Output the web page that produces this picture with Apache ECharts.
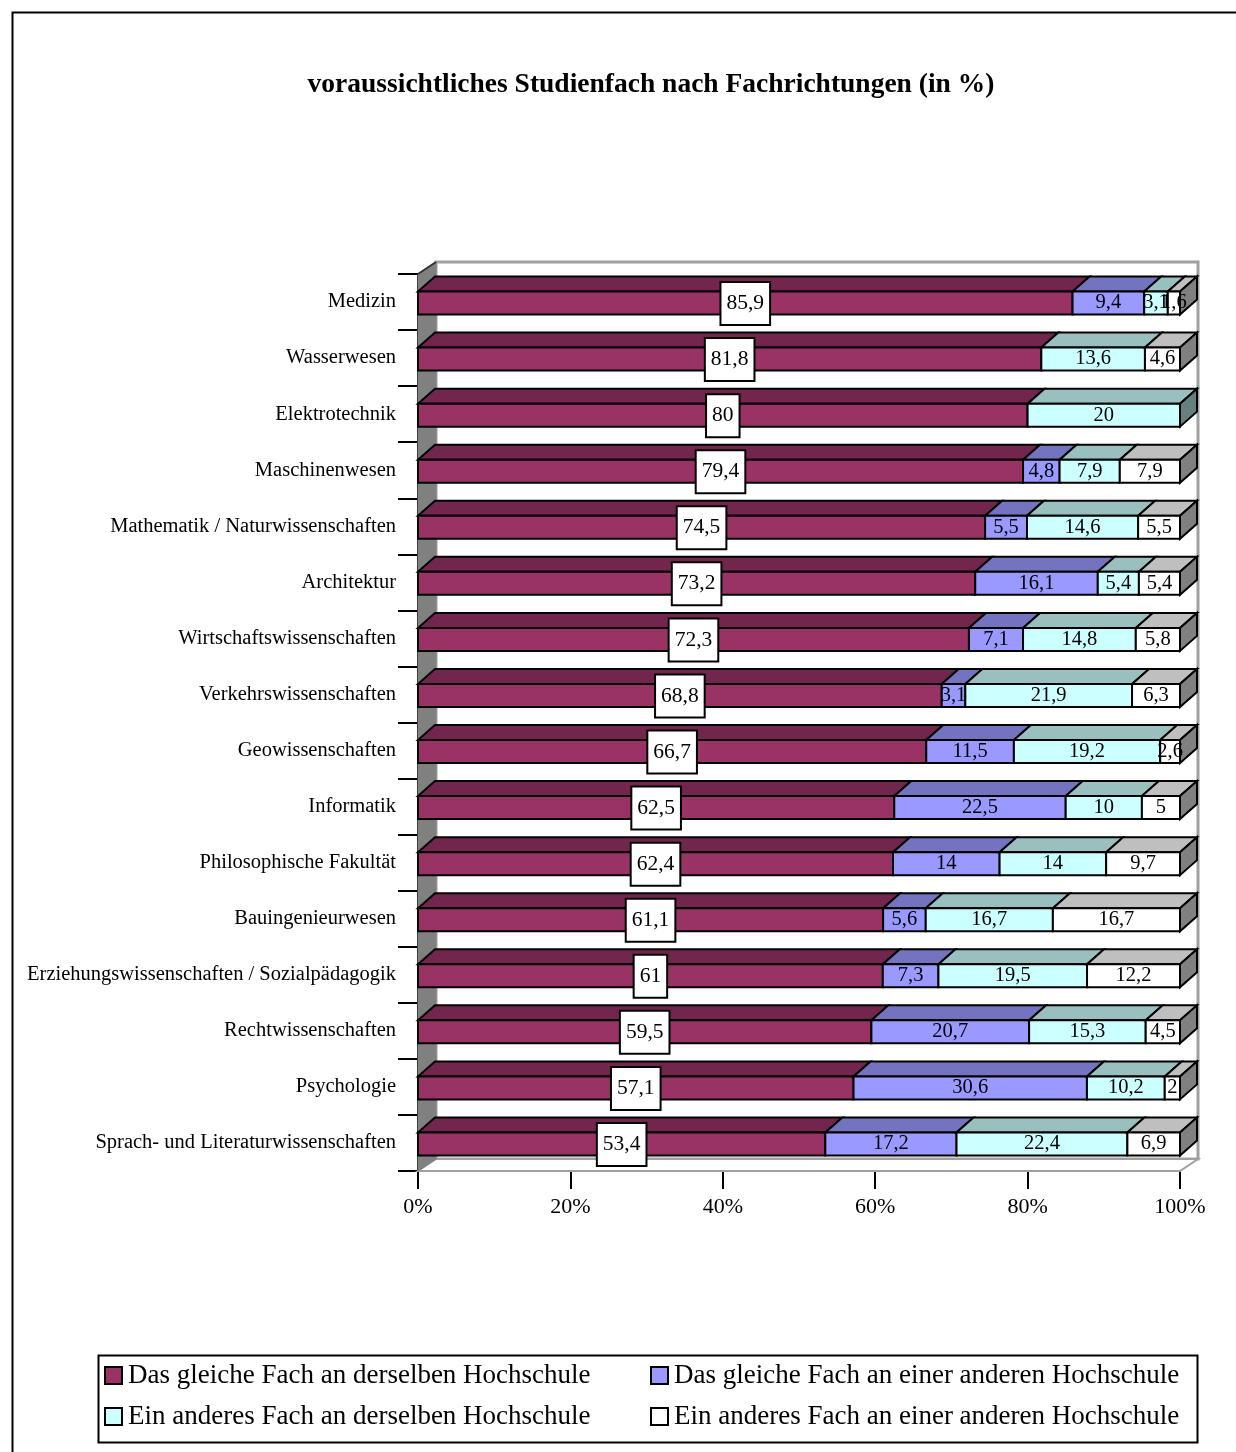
<!DOCTYPE html>
<html>
<head>
<meta charset="utf-8">
<script src="https://cdn.jsdelivr.net/npm/echarts@6/dist/echarts.min.js"></script>
<style>
  html, body { margin: 0; padding: 0; background: #fff; }
  #main { width: 1236px; height: 1452px; }
</style>
</head>
<body>
<div id="main"></div>
<script>
// Fachrichtungen (von oben nach unten)
var faecher = [
  "Medizin", "Wasserwesen", "Elektrotechnik", "Maschinenwesen",
  "Mathematik / Naturwissenschaften", "Architektur", "Wirtschaftswissenschaften",
  "Verkehrswissenschaften", "Geowissenschaften", "Informatik",
  "Philosophische Fakultät", "Bauingenieurwesen",
  "Erziehungswissenschaften / Sozialpädagogik", "Rechtwissenschaften",
  "Psychologie", "Sprach- und Literaturwissenschaften"
];
var serienNamen = [
  "Das gleiche Fach an derselben Hochschule",
  "Das gleiche Fach an einer anderen Hochschule",
  "Ein anderes Fach an derselben Hochschule",
  "Ein anderes Fach an einer anderen Hochschule"
];
var gleichDerselben  = [85.9, 81.8, 80, 79.4, 74.5, 73.2, 72.3, 68.8, 66.7, 62.5, 62.4, 61.1, 61, 59.5, 57.1, 53.4];
var gleichAnderen    = [9.4, 0, 0, 4.8, 5.5, 16.1, 7.1, 3.1, 11.5, 22.5, 14, 5.6, 7.3, 20.7, 30.6, 17.2];
var anderesDerselben = [3.1, 13.6, 20, 7.9, 14.6, 5.4, 14.8, 21.9, 19.2, 10, 14, 16.7, 19.5, 15.3, 10.2, 22.4];
var anderesAnderen   = [1.6, 4.6, 0, 7.9, 5.5, 5.4, 5.8, 6.3, 2.6, 5, 9.7, 16.7, 12.2, 4.5, 2, 6.9];
var achsenTicks = [0, 20, 40, 60, 80, 100];

var werte = [gleichDerselben, gleichAnderen, anderesDerselben, anderesAnderen];

// Farben (Front, Oberseite, Seite)
var frontCol = ["#993366", "#9999FF", "#CCFFFF", "#FFFFFF"];
var topCol   = ["#73264D", "#7373BF", "#99BFBF", "#BFBFBF"];
var sideCol  = ["#4D1A33", "#4D4D80", "#668080", "#808080"];
var DX = 17, DY = 15;      // Tiefe der Balken
var WX = 18, WY = 12;      // Tiefe der Wände
var FONT = "Liberation Serif";

// 100%-gestapelte Segmente: [start, kategorie, ende, wert, letztes]
var segmente = [[], [], [], []];
faecher.forEach(function (f, ci) {
  var total = 0, lastIdx = 0;
  for (var s = 0; s < 4; s++) {
    total += werte[s][ci];
    if (werte[s][ci] > 0) lastIdx = s;
  }
  var acc = 0;
  for (var s = 0; s < 4; s++) {
    var v = werte[s][ci];
    if (v > 0) {
      var a = acc / total * 100;
      var b = (acc + v) / total * 100;
      segmente[s].push([a, ci, b, v, s === lastIdx ? 1 : 0]);
    }
    acc += v;
  }
});

function fmt(v) { return String(v).replace(".", ","); }

function segRender(si) {
  return function (params, api) {
    var cat = api.value(1);
    var p0 = api.coord([api.value(0), cat]);
    var p1 = api.coord([api.value(2), cat]);
    var v = api.value(3);
    var x0 = p0[0], x1 = p1[0], cy = p0[1];
    var yT = cy - 10.5, yB = cy + 12.5;
    var kids = [
      { type: "polygon", shape: { points: [[x0, yT], [x0 + DX, yT - DY], [x1 + DX, yT - DY], [x1, yT]] },
        style: { fill: topCol[si], stroke: "#000", lineWidth: 2 } },
      { type: "rect", shape: { x: x0, y: yT, width: x1 - x0, height: yB - yT },
        style: { fill: frontCol[si], stroke: "#000", lineWidth: 2 } }
    ];
    if (api.value(4)) {
      kids.push({ type: "polygon", shape: { points: [[x1, yT], [x1 + DX, yT - DY], [x1 + DX, yB - DY], [x1, yB]] },
        style: { fill: sideCol[si], stroke: "#000", lineWidth: 2 } });
    }
    if (si === 0) {
      kids.push({ type: "text", z2: 10, style: {
        text: fmt(v), x: (x0 + x1) / 2, y: cy + 1.5, align: "center", verticalAlign: "middle",
        fontSize: 21.5, fontFamily: FONT, fill: "#000",
        backgroundColor: "#fff", borderColor: "#000", borderWidth: 2, padding: [10, 5, 9, 5]
      } });
    } else {
      kids.push({ type: "text", z2: 10, style: {
        text: fmt(v), x: (x0 + x1) / 2, y: cy + 1, align: "center", verticalAlign: "middle",
        fontSize: 20.5, fontFamily: FONT, fill: "#000"
      } });
    }
    return { type: "group", children: kids };
  };
}

function wandRender(params, api) {
  var n = faecher.length;
  var band = api.size([0, 1])[1];
  var top = api.coord([0, 0])[1] - band / 2;
  var bot = api.coord([0, n - 1])[1] + band / 2;
  var x0 = api.coord([0, 0])[0];
  var x1 = api.coord([100, 0])[0];
  return { type: "group", children: [
    { type: "rect", shape: { x: x0 + WX, y: top - WY, width: x1 - x0, height: bot - top },
      style: { fill: "#fff", stroke: "#A0A0A0", lineWidth: 3 } },
    { type: "polygon", shape: { points: [[x0, bot], [x0 + WX, bot - WY], [x1 + WX, bot - WY], [x1, bot]] },
      style: { fill: "#fff", stroke: "#A0A0A0", lineWidth: 2 } },
    { type: "polygon", shape: { points: [[x0, top], [x0 + WX, top - WY], [x0 + WX, bot - WY], [x0, bot]] },
      style: { fill: "#808080", stroke: "#808080", lineWidth: 1 } },
    { type: "line", shape: { x1: x0, y1: top, x2: x0 + WX, y2: top - WY },
      style: { stroke: "#333", lineWidth: 2 } }
  ] };
}

var chart = echarts.init(document.getElementById("main"));

var series = [{
  type: "custom",
  name: "wand",
  z: 1,
  silent: true,
  renderItem: wandRender,
  encode: { x: 0, y: 1 },
  data: [[0, 0]]
}];
for (var s = 0; s < 4; s++) {
  series.push({
    type: "custom",
    name: serienNamen[s],
    z: 3,
    itemStyle: { color: frontCol[s] },
    renderItem: segRender(s),
    encode: { x: [0, 2], y: 1 },
    data: segmente[s]
  });
}

var legendBase = {
  top: 1357, orient: "vertical", itemGap: 14,
  itemWidth: 17, itemHeight: 17, icon: "rect",
  itemStyle: { borderColor: "#000", borderWidth: 2 },
  textStyle: { fontSize: 27, fontFamily: FONT, color: "#000", padding: [0, 0, 0, 1] }
};

var option = {
  animation: false,
  backgroundColor: "#fff",
  textStyle: { fontFamily: FONT, color: "#000" },
  title: {
    text: "voraussichtliches Studienfach nach Fachrichtungen (in %)",
    left: 646,
    textAlign: "center",
    top: 66,
    textStyle: { fontFamily: FONT, fontSize: 27.5, fontWeight: "bold", color: "#000" }
  },
  grid: { left: 418, right: 56, top: 274, bottom: 281, containLabel: false },
  xAxis: {
    type: "value",
    min: achsenTicks[0],
    max: achsenTicks[achsenTicks.length - 1],
    interval: 20,
    axisLine: { show: true, lineStyle: { color: "#000", width: 2 } },
    axisTick: { show: true, length: 18, lineStyle: { color: "#000", width: 2 } },
    splitLine: { show: false },
    axisLabel: { formatter: "{value}%", fontSize: 22, fontFamily: FONT, color: "#000", margin: 25 }
  },
  yAxis: {
    type: "category",
    inverse: true,
    data: faecher,
    axisLine: { show: true, lineStyle: { color: "#000", width: 2 } },
    axisTick: { show: true, length: 20, lineStyle: { color: "#000", width: 2 } },
    axisLabel: { fontSize: 20.5, fontFamily: FONT, color: "#000", margin: 22 }
  },
  legend: [
    Object.assign({ left: 99, data: [serienNamen[0], serienNamen[2]] }, legendBase),
    Object.assign({ left: 645, data: [serienNamen[1], serienNamen[3]] }, legendBase)
  ],
  graphic: [
    { type: "rect", left: 10, top: 10, shape: { width: 1300, height: 1500 },
      style: { fill: "none", stroke: "#000", lineWidth: 2 }, silent: true },
    { type: "rect", left: 96, top: 1353, shape: { width: 1099, height: 87 },
      style: { fill: "none", stroke: "#000", lineWidth: 2 }, silent: true }
  ],
  series: series
};

chart.setOption(option);
</script>
</body>
</html>
